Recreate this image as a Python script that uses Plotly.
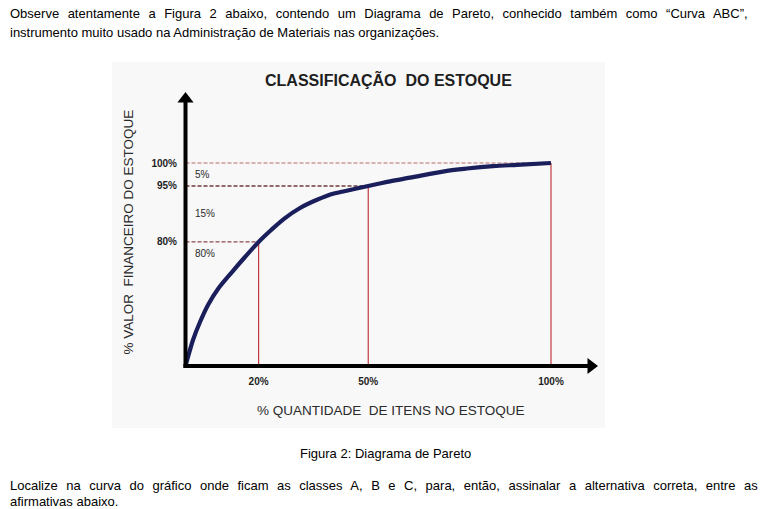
import numpy as np
import plotly.graph_objects as go

# ---------------- data ----------------
# Pareto / ABC curve (x: % of items, y: % of value)
curve_items_pct = [0, 0.68, 2.05, 3.97, 6.16, 8.89, 12.72, 16.28, 20, 23.43, 26.95, 31.33,
                   35.98, 40.36, 45.01, 50, 55.95, 61.42, 71.55, 77.02, 84.13, 90.70, 100]
curve_value_pct = [0, 5.8, 16.8, 28.4, 39.4, 49.7, 60.6, 70.3, 80, 83.2, 86.2, 89.1,
                   91.3, 92.9, 93.9, 95, 96.0, 96.8, 98.3, 98.8, 99.3, 99.6, 100]

# class limits (A, B, C)
limit_items_pct = [20, 50, 100]
limit_value_pct = [80, 95, 100]
limit_item_labels = ["20%", "50%", "100%"]
limit_value_labels = ["80%", "95%", "100%"]
class_share_labels = ["80%", "15%", "5%"]

title_text = "CLASSIFICAÇÃO&nbsp; DO ESTOQUE"
x_title = "% QUANTIDADE&nbsp; DE ITENS NO ESTOQUE"
y_title = "% VALOR&nbsp; FINANCEIRO DO ESTOQUE"

# the schematic value axis is not linear: breakpoints of its scale
Y_SCALE_PCT = [0, 80, 95, 100]
Y_SCALE_AXIS = [0, 61.1, 88.7, 100]


def yscale(v):
    return np.interp(v, Y_SCALE_PCT, Y_SCALE_AXIS)


W, H = 771, 509
# pixel geometry of the axes
X0_PX, X_PX_PER = 185.5, 3.655
Y0_PX, Y_PX_PER = 366.0, 2.03
XDOM_PX = (178, 604)
YDOM_PX = (372, 88)

x_range = [(XDOM_PX[0] - X0_PX) / X_PX_PER, (XDOM_PX[1] - X0_PX) / X_PX_PER]
y_range = [(Y0_PX - YDOM_PX[0]) / Y_PX_PER, (Y0_PX - YDOM_PX[1]) / Y_PX_PER]
x_tip_px, y_tip_px = 598, 92

fig = go.Figure()

# helper lines: horizontal dashed and vertical solid
h_colors = ["#8a4b4b", "#6f3a3a", "#b86a6a"]
h_widths = [1.3, 1.6, 1.1]
for xi, vi, c, w in zip(limit_items_pct, limit_value_pct, h_colors, h_widths):
    fig.add_trace(go.Scatter(x=[0, xi], y=[yscale(vi)] * 2, mode="lines",
                             line=dict(color=c, width=w, dash="4px,2px"),
                             hoverinfo="skip", showlegend=False, cliponaxis=False))
    fig.add_trace(go.Scatter(x=[xi, xi], y=[0, yscale(vi)], mode="lines",
                             line=dict(color="#c23a3e", width=1.2),
                             hoverinfo="skip", showlegend=False, cliponaxis=False))

# the curve
fig.add_trace(go.Scatter(x=curve_items_pct, y=yscale(np.array(curve_value_pct)),
                         mode="lines", line=dict(color="#1a1f5c", width=4.2, shape="spline",
                                                  smoothing=0.9),
                         showlegend=False, cliponaxis=False, hoverinfo="skip"))

# axis lines with arrow heads
x_tip = (x_tip_px - X0_PX) / X_PX_PER
y_tip = (Y0_PX - y_tip_px) / Y_PX_PER
fig.add_shape(type="line", xref="x", yref="y", x0=0, x1=0, y0=-2 / Y_PX_PER,
              y1=y_tip - 10 / Y_PX_PER, line=dict(color="black", width=4))
fig.add_shape(type="line", xref="x", yref="y", x0=-2 / X_PX_PER, x1=x_tip - 10 / X_PX_PER,
              y0=0, y1=0, line=dict(color="black", width=4))
fig.add_trace(go.Scatter(x=[0], y=[y_tip - 7 / Y_PX_PER], mode="markers",
                         marker=dict(symbol="triangle-up", size=14, color="black",
                                     line=dict(width=0)),
                         showlegend=False, cliponaxis=False, hoverinfo="skip"))
fig.add_trace(go.Scatter(x=[x_tip - 7 / X_PX_PER], y=[0], mode="markers",
                         marker=dict(symbol="triangle-right", size=14, color="black",
                                     line=dict(width=0)),
                         showlegend=False, cliponaxis=False, hoverinfo="skip"))

# class share labels
lv = [0] + limit_value_pct
share_pos = []
for i in range(len(limit_value_pct)):
    lo, hi = lv[i], lv[i + 1]
    share_pos.append((lo + hi) / 2 if i > 0 else hi - 7.7)
for lab, yp in zip(class_share_labels, share_pos):
    fig.add_annotation(x=2, y=float(yscale(yp)), xref="x", yref="y", text=lab,
                       showarrow=False, xanchor="left", yanchor="middle",
                       font=dict(family="Arial, Liberation Sans", size=10, color="#2a2a2a"))

chart_font = "Arial, Liberation Sans, sans-serif"

# background of the figure image
fig.add_shape(type="rect", xref="paper", yref="paper", x0=112 / W, x1=605 / W,
              y0=1 - 428 / H, y1=1 - 62 / H, fillcolor="#f8f8f8", line_width=0, layer="below")

# chart texts
fig.add_annotation(x=388 / W, y=1 - 80 / H, xref="paper", yref="paper", text="<b>" + title_text + "</b>",
                   showarrow=False, xanchor="center", yanchor="middle",
                   font=dict(family=chart_font, size=16, color="#1e1e1e"))
fig.add_annotation(x=391 / W, y=1 - 410 / H, xref="paper", yref="paper", text=x_title,
                   showarrow=False, xanchor="center", yanchor="middle",
                   font=dict(family=chart_font, size=13.5, color="#2a2a2a"))
fig.add_annotation(x=127.5 / W, y=1 - 232 / H, xref="paper", yref="paper", text=y_title,
                   showarrow=False, xanchor="center", yanchor="middle", textangle=-90,
                   font=dict(family=chart_font, size=13.5, color="#2a2a2a"))

# surrounding document text (justified lines get extra word spacing)
doc_font = "Liberation Sans Narrow, Arial Narrow, Liberation Sans, Arial, sans-serif"
doc_lines = [
    ("Observe atentamente a Figura 2 abaixo, contendo um Diagrama de Pareto, conhecido também como “Curva ABC”,", 8, 13, "left", 4.9),
    ("instrumento muito usado na Administração de Materiais nas organizações.", 8, 32, "left", 0),
    ("Figura 2: Diagrama de Pareto", 385, 453, "center", 0),
    ("Localize na curva do gráfico onde ficam as classes A, B e C, para, então, assinalar a alternativa correta, entre as", 8, 485, "left", 4.9),
    ("afirmativas abaixo.", 8, 501, "left", 0),
]
for txt, px, py, anc, ws in doc_lines:
    if ws:
        txt = '<span style="word-spacing:%.1fpx">%s</span>' % (ws, txt)
    fig.add_annotation(x=px / W, y=1 - py / H, xref="paper", yref="paper", text=txt,
                       showarrow=False, xanchor=anc, yanchor="middle",
                       font=dict(family=doc_font, size=13, color="black"))

fig.update_layout(
    width=W, height=H, margin=dict(l=0, r=0, t=0, b=0),
    paper_bgcolor="white", plot_bgcolor="rgba(0,0,0,0)",
    xaxis=dict(domain=[XDOM_PX[0] / W, XDOM_PX[1] / W], range=x_range,
               showgrid=False, zeroline=False, showline=False, fixedrange=True,
               tickvals=limit_items_pct, ticktext=limit_item_labels, ticks="",
               ticklabelstandoff=2,
               tickfont=dict(family=chart_font, size=10, color="#1e1e1e", weight="bold")),
    yaxis=dict(domain=[1 - YDOM_PX[0] / H, 1 - YDOM_PX[1] / H], range=y_range,
               showgrid=False, zeroline=False, showline=False, fixedrange=True,
               tickvals=[float(yscale(v)) for v in limit_value_pct], ticktext=limit_value_labels,
               ticks="", ticklabelstandoff=0,
               tickfont=dict(family=chart_font, size=10, color="#1e1e1e", weight="bold")),
)

fig.write_html("out.html", config={"displayModeBar": False},
               post_script="document.body.style.margin='0';document.body.style.overflow='hidden';")
